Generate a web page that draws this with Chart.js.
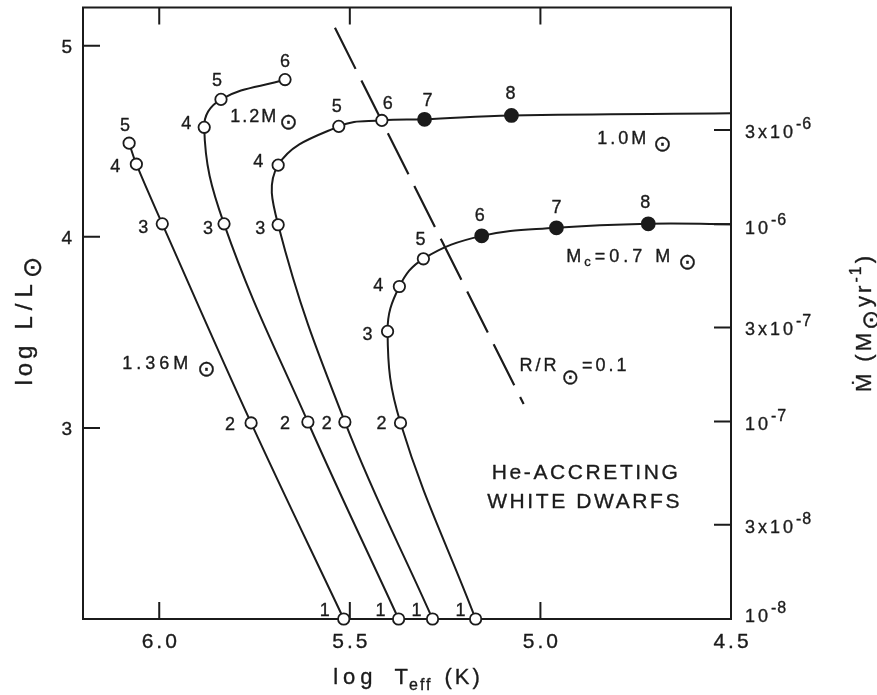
<!DOCTYPE html>
<html>
<head>
<meta charset="utf-8">
<title>He-accreting white dwarfs</title>
<script src="https://cdn.jsdelivr.net/npm/chart.js@4.4.1/dist/chart.umd.min.js"></script>
<style>
  html, body { margin: 0; padding: 0; background: #ffffff; }
  #box { position: relative; width: 877px; height: 695px; }
</style>
</head>
<body>
<div id="box"><canvas id="hr" width="877" height="695"></canvas></div>
<script>
// Model sequences: log Teff (K) and log L/L⊙ of the successive models 1..N
const teff136 = [5.516, 5.759, 5.992, 6.060, 6.079];
const lum136  = [2.000, 3.026, 4.068, 4.380, 4.490];
const model136 = [1, 2, 3, 4, 5];

const teff12 = [5.372, 5.610, 5.830, 5.882, 5.838, 5.670];
const lum12  = [2.000, 3.031, 4.068, 4.573, 4.719, 4.823];
const model12 = [1, 2, 3, 4, 5, 6];

// null = the track continues without a model marker
const teff10 = [5.283, 5.513, 5.688, 5.688, 5.529, 5.416, 5.304, 5.076, 4.500];
const lum10  = [2.000, 3.031, 4.063, 4.375, 4.578, 4.609, 4.615, 4.635, 4.646];
const model10 = [1, 2, 3, 4, 5, 6, 7, 8, null];
const filled10 = [7, 8];

const teff07 = [5.170, 5.367, 5.401, 5.370, 5.307, 5.154, 4.958, 4.717, 4.500];
const lum07  = [2.000, 3.026, 3.505, 3.740, 3.885, 4.005, 4.047, 4.068, 4.066];
const model07 = [1, 2, 3, 4, 5, 6, 7, 8, null];
const filled07 = [6, 7, 8];

// line of constant radius R/R⊙ = 0.1
const radiusTeff = [5.539, 5.044];
const radiusLum  = [5.094, 3.125];

// axes
const teffTicks = [6.0, 5.5, 5.0, 4.5];
const lumTicks = [3, 4, 5];
const mdotTicks = [1e-8, 3e-8, 1e-7, 3e-7, 1e-6, 3e-6];
const mdotCoef = ['', '3x', '', '3x', '', '3x'];
const mdotExp = ['-8', '-8', '-7', '-7', '-6', '-6'];
const lumPerDecade = 1.033;   // log L/L⊙ per decade of accretion rate

const INK = '#1b1b1b';
const FONT = '"Liberation Sans", "DejaVu Sans", Arial, sans-serif';
const SUNFONT = '"DejaVu Sans", sans-serif';

const tracks = [
  { name: '1.36 M⊙', teff: teff136, lum: lum136, model: model136, filled: [] },
  { name: '1.2 M⊙',  teff: teff12,  lum: lum12,  model: model12,  filled: [] },
  { name: '1.0 M⊙',  teff: teff10,  lum: lum10,  model: model10,  filled: filled10 },
  { name: 'Mc = 0.7 M⊙', teff: teff07, lum: lum07, model: model07, filled: filled07 }
];

// where each model number sits relative to its marker (px)
const numberOffsets = [
  [[-19, -10], [-21, 1], [-19, 3], [-21, 1], [-4, -19]],
  [[-18, -10], [-23, 1], [-16, 4], [-18, -5], [-4, -20], [0, -19]],
  [[-16, -10], [-18, 1], [-18, 3], [-20, -5], [-2, -21], [6, -18], [3, -20], [-1, -23]],
  [[-15, -10], [-19, 0], [-20, 2], [-21, -2], [-3, -20], [-2, -21], [0, -21], [-3, -22]]
];
const mdotLabelShift = [3, 8, 8, 8, 10, 8];

function pts(xs, ys) { return xs.map((x, i) => ({ x: x, y: ys[i] })); }

const datasets = tracks.map(tr => ({
  label: tr.name,
  data: pts(tr.teff, tr.lum),
  showLine: true,
  tension: 0.4,
  borderColor: INK,
  borderWidth: 2,
  pointRadius: tr.model.map(m => m === null ? 0 : (tr.filled.includes(m) ? 6.5 : 5.7)),
  pointBackgroundColor: tr.model.map(m => tr.filled.includes(m) ? INK : '#ffffff'),
  pointBorderColor: INK,
  pointBorderWidth: 1.8,
  clip: false,
  order: 1
}));
datasets.push({
  label: 'R/R⊙ = 0.1',
  data: pts(radiusTeff, radiusLum),
  showLine: true,
  tension: 0,
  borderColor: INK,
  borderWidth: 2.2,
  borderDash: [46, 13],
  pointRadius: 0,
  clip: false,
  order: 2
});

// text made of runs with their own size, raise and tracking
function rich(ctx, x, y, parts, align, angle) {
  ctx.save();
  ctx.translate(x, y);
  if (angle) ctx.rotate(angle);
  ctx.fillStyle = INK;
  ctx.strokeStyle = INK;
  ctx.lineWidth = 0.35;
  ctx.lineJoin = 'round';
  ctx.textAlign = 'left';
  ctx.textBaseline = 'alphabetic';
  const setFont = p => {
    ctx.font = p.size + 'px ' + (p.font || FONT);
    ctx.letterSpacing = (p.ls || 0) + 'px';
  };
  let total = 0;
  const widths = parts.map(p => {
    setFont(p);
    const w = ctx.measureText(p.t).width + (p.gap || 0);
    total += w;
    return w;
  });
  let cx = align === 'center' ? -total / 2 : (align === 'right' ? -total : 0);
  parts.forEach((p, i) => {
    setFont(p);
    ctx.fillText(p.t, cx + (p.gap || 0), p.dy || 0);
    ctx.strokeText(p.t, cx + (p.gap || 0), p.dy || 0);
    cx += widths[i];
  });
  ctx.restore();
}
const sun = (size, dy, gap) => ({ t: '⊙', size: size, dy: dy, gap: gap || 0, font: SUNFONT });

// free annotations, anchored in data units (log Teff, log L)
const notes = [
  { x: 5.814, y: 4.599, align: 'left', parts: [{ t: '1.2M', size: 18, ls: 2 }, sun(22, 7, 1)] },
  { x: 4.851, y: 4.484, align: 'left', parts: [{ t: '1.0M', size: 18, ls: 3 }, sun(22, 7, 4)] },
  { x: 4.932, y: 3.870, align: 'left', parts: [{ t: 'M', size: 18, ls: 3 }, { t: 'c', size: 13, dy: 4, ls: 2 },
      { t: '=0.7 M', size: 18, ls: 4, gap: 2 }, sun(22, 7, 4)] },
  { x: 6.097, y: 3.307, align: 'left', parts: [{ t: '1.36M', size: 18, ls: 4 }, sun(22, 7, 5)] },
  { x: 5.055, y: 3.297, align: 'left', parts: [{ t: 'R/R', size: 18, ls: 3 }, sun(21, 13, 2),
      { t: '=0.1', size: 18, ls: 3, gap: 3 }] },
  { x: 4.880, y: 2.735, align: 'center', parts: [{ t: 'He-ACCRETING', size: 21, ls: 2.6 }] },
  { x: 4.884, y: 2.583, align: 'center', parts: [{ t: 'WHITE DWARFS', size: 21, ls: 2.6 }] }
];

const decor = {
  id: 'decor',
  beforeDatasetsDraw(chart) {
    const { ctx, chartArea: a, scales } = chart;
    ctx.save();
    ctx.strokeStyle = INK;
    ctx.lineWidth = 2;
    ctx.lineCap = 'butt';
    ctx.strokeRect(a.left, a.top, a.right - a.left, a.bottom - a.top);
    const TL = 17;
    ctx.beginPath();
    scales.x.ticks.forEach(t => {
      const px = scales.x.getPixelForValue(t.value);
      if (Math.abs(px - a.right) < 2 || Math.abs(px - a.left) < 2) return;
      ctx.moveTo(px, a.bottom); ctx.lineTo(px, a.bottom - TL);
      ctx.moveTo(px, a.top); ctx.lineTo(px, a.top + TL);
    });
    scales.y.ticks.forEach(t => {
      const py = scales.y.getPixelForValue(t.value);
      ctx.moveTo(a.left, py); ctx.lineTo(a.left + TL, py);
    });
    scales.y2.ticks.forEach(t => {
      const py = scales.y2.getPixelForValue(t.value);
      if (Math.abs(py - a.bottom) < 2) return;
      ctx.moveTo(a.right, py); ctx.lineTo(a.right - TL, py);
    });
    ctx.stroke();
    ctx.restore();
  },
  afterDraw(chart) {
    const { ctx, chartArea: a, scales } = chart;
    const sx = scales.x, sy = scales.y, sy2 = scales.y2;

    // tick labels
    sx.ticks.forEach(t => {
      rich(ctx, sx.getPixelForValue(t.value) + 1.5, a.bottom + 29,
        [{ t: t.value.toFixed(1), size: 21, ls: 3 }], 'center');
    });
    sy.ticks.forEach(t => {
      rich(ctx, a.left - 11, sy.getPixelForValue(t.value) + 7,
        [{ t: String(t.value), size: 19 }], 'right');
    });
    sy2.ticks.forEach((t, i) => {
      rich(ctx, a.right + 14, sy2.getPixelForValue(t.value) + mdotLabelShift[i], [
        { t: mdotCoef[i] + '10', size: 18, ls: 3 },
        { t: mdotExp[i], size: 16, dy: -9, ls: 1 }
      ], 'left');
    });

    // axis titles
    rich(ctx, (a.left + a.right) / 2 + 1, 684, [
      { t: 'log', size: 22, ls: 5 },
      { t: 'T', size: 22, gap: 17 },
      { t: 'eff', size: 16, dy: 6, ls: 2, gap: 1 },
      { t: '(K)', size: 22, ls: 3, gap: 12 }
    ], 'center');
    rich(ctx, 32, 321, [
      { t: 'log', size: 24, ls: 4 },
      { t: 'L/L', size: 24, ls: 6, gap: 12 },
      sun(26, 9, 0)
    ], 'center', -Math.PI / 2);
    rich(ctx, 871, 324, [
      { t: 'Ṁ', size: 22 },
      { t: '(M', size: 22, ls: 3, gap: 12 },
      sun(24, 8, 0),
      { t: 'yr', size: 22, ls: 3, gap: 3 },
      { t: '-1', size: 16, dy: -10, ls: 2 },
      { t: ')', size: 22, gap: 1 }
    ], 'center', -Math.PI / 2);

    // model numbers beside the markers
    chart.data.datasets.forEach((ds, di) => {
      if (di >= tracks.length) return;
      const meta = chart.getDatasetMeta(di);
      tracks[di].model.forEach((m, i) => {
        if (m === null) return;
        const el = meta.data[i];
        const off = numberOffsets[di][i];
        rich(ctx, el.x + off[0], el.y + off[1] + 6.5, [{ t: String(m), size: 18 }], 'center');
      });
    });

    // annotations
    notes.forEach(n => {
      rich(ctx, sx.getPixelForValue(n.x), sy.getPixelForValue(n.y), n.parts, n.align);
    });
  }
};

Chart.defaults.font.family = FONT;
Chart.defaults.color = INK;

new Chart(document.getElementById('hr'), {
  type: 'scatter',
  data: { datasets: datasets },
  options: {
    responsive: false,
    animation: false,
    events: [],
    layout: { padding: { top: 5, left: 0, right: 0, bottom: 0 } },
    plugins: { legend: { display: false }, tooltip: { enabled: false }, title: { display: false } },
    scales: {
      x: {
        type: 'linear', position: 'bottom', reverse: true, min: 4.5, max: 6.2, bounds: 'data',
        grid: { display: false, drawTicks: false }, border: { display: false },
        ticks: { display: false },
        afterBuildTicks: s => { s.ticks = teffTicks.map(v => ({ value: v })); },
        afterFit: s => { s.height = 76; }
      },
      y: {
        type: 'linear', position: 'left', min: 2.0, max: 5.2, bounds: 'data',
        grid: { display: false, drawTicks: false }, border: { display: false },
        ticks: { display: false },
        afterBuildTicks: s => { s.ticks = lumTicks.map(v => ({ value: v })); },
        afterFit: s => { s.width = 83; }
      },
      y2: {
        type: 'logarithmic', position: 'right', bounds: 'data',
        min: mdotTicks[0], max: mdotTicks[0] * Math.pow(10, (5.2 - 2.0) / lumPerDecade),
        grid: { display: false, drawTicks: false }, border: { display: false },
        ticks: { display: false },
        afterBuildTicks: s => { s.ticks = mdotTicks.map(v => ({ value: v })); },
        afterFit: s => { s.width = 146; }
      }
    }
  },
  plugins: [decor]
});
</script>
</body>
</html>
